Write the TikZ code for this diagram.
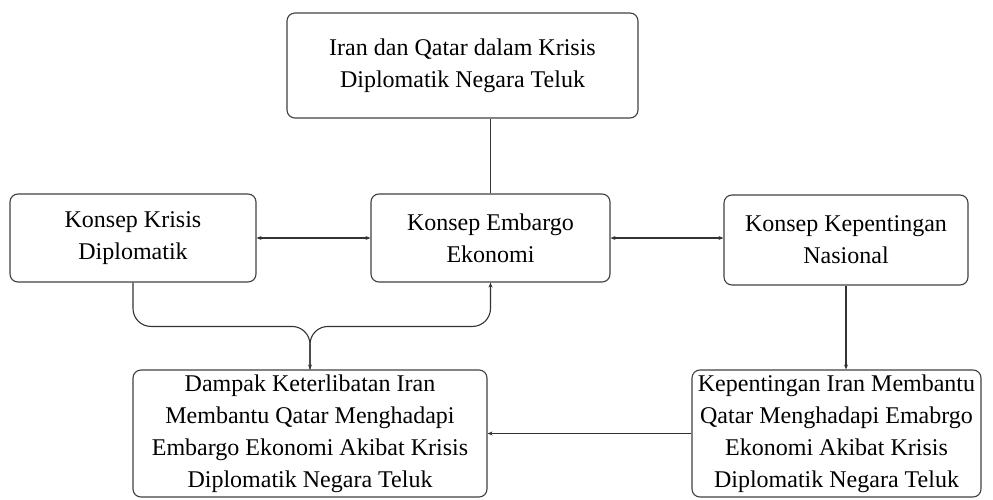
\documentclass[tikz,border=0pt]{standalone}
\usepackage{fontspec}
\setmainfont{Liberation Serif}
\usepackage{tikz}
\usetikzlibrary{arrows.meta,positioning,calc}
\tikzset{
	box/.style={draw=black!75,line width=1.1pt,rectangle,rounded corners=8pt,align=center,
		font=\fontsize{24}{32}\selectfont,inner sep=2pt},
	link/.style={draw=black!80,line width=1.1pt},
	every new ->/.style={shorten >=0pt},
	>={Stealth[length=5pt,width=4pt]}
}

\begin{document}
\begin{tikzpicture}[x=1pt,y=-1pt]
            \useasboundingbox (0,0) rectangle (993,500);
            \node[box,minimum width=351pt,minimum height=105pt] (iran) at (462.5,65.5) {Iran dan Qatar dalam Krisis\\Diplomatik Negara Teluk};
            \node[box,minimum width=246pt,minimum height=88pt] (krisis) at (133,238) {Konsep Krisis\\Diplomatik};
            \node[box,minimum width=239pt,minimum height=88pt] (embargo) at (490.5,238) {Konsep Embargo\\Ekonomi};
            \node[box,minimum width=244pt,minimum height=90pt] (nasional) at (846,240) {Konsep Kepentingan\\Nasional};
            \node[box,minimum width=354pt,minimum height=127pt] (dampak) at (310,433.5) {Dampak Keterlibatan Iran\\Membantu Qatar Menghadapi\\Embargo Ekonomi Akibat Krisis\\Diplomatik Negara Teluk};
            \node[box,minimum width=289pt,minimum height=127pt] (bantu) at (836.5,433.5) {Kepentingan Iran Membantu\\Qatar Menghadapi Emabrgo\\Ekonomi Akibat Krisis\\Diplomatik Negara Teluk};
            \coordinate (brace) at ($(dampak.north)+(0,-43)$);
            \draw[link] (embargo.north) -- (embargo.north |- iran.south);
            \draw[link,<->] (krisis.east |- embargo.west) -- (embargo.west);
            \draw[link,<->] (embargo.east) -- (nasional.west |- embargo.east);
            \draw[link,->,rounded corners=18pt] (krisis.south) |- (brace) -- (dampak.north);
            \draw[link,<-,rounded corners=18pt] (embargo.south) |- (brace) -- (dampak.north);
            \draw[link,->] (nasional.south) -- (nasional.south |- bantu.north);
            \draw[link,->] (bantu.west) -- (dampak.east);
        \end{tikzpicture}
\end{document}
